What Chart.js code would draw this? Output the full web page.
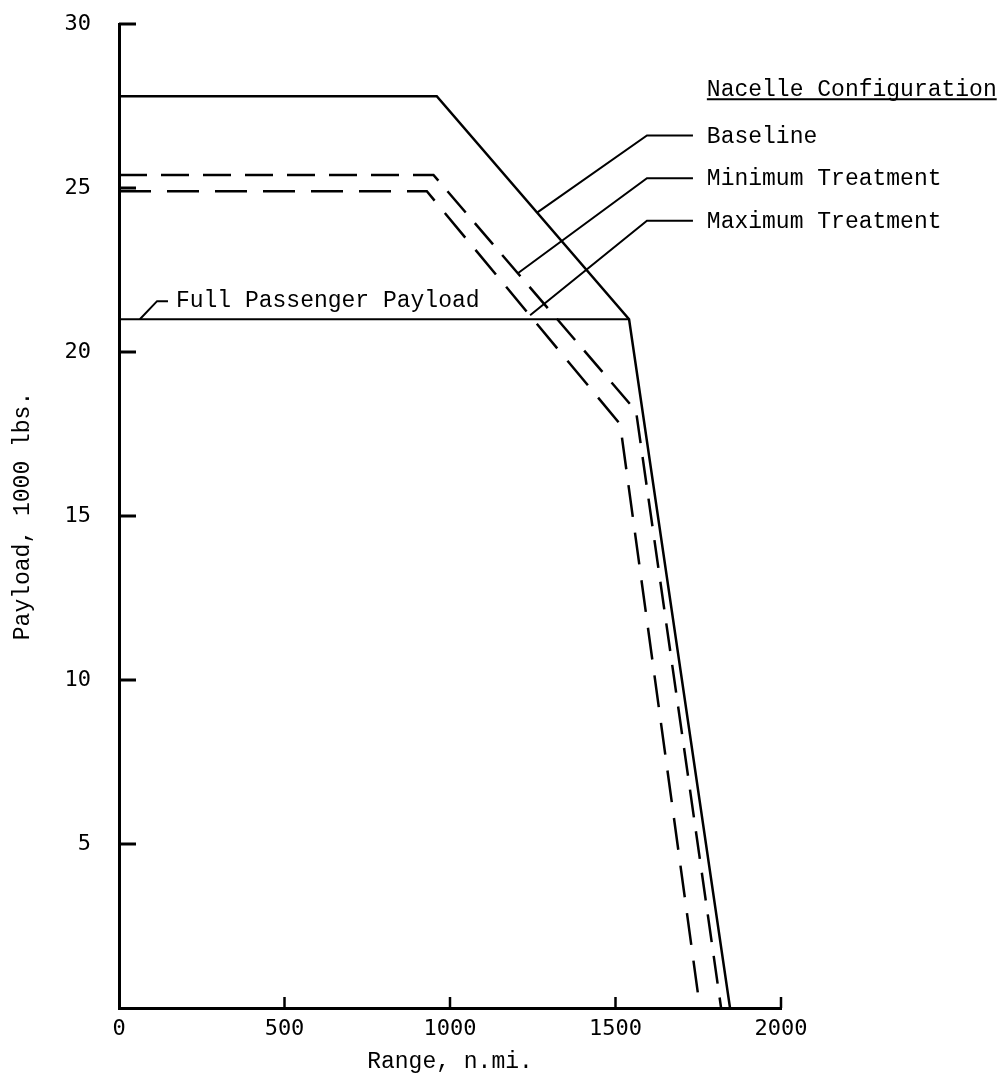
<!DOCTYPE html>
<html>
<head>
<meta charset="utf-8">
<title>Payload vs Range</title>
<script src="https://cdn.jsdelivr.net/npm/chart.js@4.4.1/dist/chart.umd.min.js"></script>
<style>
  html, body { margin: 0; padding: 0; background: #fff; }
  #wrap { width: 1002px; height: 1082px; position: relative; }
</style>
</head>
<body>
<div id="wrap"><canvas id="chart"></canvas></div>
<script>
/* ── Data (range in n.mi., payload in 1000 lbs) ── */
const X_TICKS = [0, 500, 1000, 1500, 2000];
const Y_TICKS = [5, 10, 15, 20, 25, 30];

const BASELINE_X = [0, 960, 1541, 1846];
const BASELINE_Y = [27.8, 27.8, 21.0, 0];

const MIN_TREAT_X = [0, 950, 1562, 1819];
const MIN_TREAT_Y = [25.4, 25.4, 18.2, 0];

const MAX_TREAT_X = [0, 930, 1514, 1755];
const MAX_TREAT_Y = [24.9, 24.9, 17.8, 0];

const FULL_PAX_X = [0, 1541];
const FULL_PAX_Y = [21.0, 21.0];

const SERIES_NAMES = ['Baseline', 'Minimum Treatment', 'Maximum Treatment'];

/* ── Leader lines for the annotations (data units) ── */
const LEADER_TIP_X  = [1263, 1205, 1242];
const LEADER_TIP_Y  = [24.25, 22.4, 21.12];
const LEADER_ELBOW_Y = [26.6, 25.3, 24.0];

const TYPE_FONT = '"Liberation Mono", "DejaVu Sans Mono", monospace';
const TICK_FONT = '"DejaVu Sans Mono", monospace';

function pts(xs, ys) {
  return xs.map((x, i) => ({ x, y: ys[i] }));
}

/* ── Inward ticks, annotations, leader lines ── */
const annotate = {
  id: 'annotate',
  afterDatasetsDraw(chart) {
    const { ctx, scales: { x, y } } = chart;
    const px = v => x.getPixelForValue(v);
    const py = v => y.getPixelForValue(v);
    const left = chart.chartArea.left, bottom = chart.chartArea.bottom;

    ctx.save();
    ctx.strokeStyle = '#000';
    ctx.fillStyle   = '#000';
    ctx.lineCap     = 'butt';

    // y ticks point into the plot
    ctx.lineWidth = 3;
    Y_TICKS.forEach(v => {
      ctx.beginPath();
      ctx.moveTo(left, py(v));
      ctx.lineTo(left + 17, py(v));
      ctx.stroke();
    });
    // x ticks point up
    ctx.lineWidth = 2.5;
    X_TICKS.filter(v => v > 0).forEach(v => {
      ctx.beginPath();
      ctx.moveTo(px(v), bottom);
      ctx.lineTo(px(v), bottom - 11);
      ctx.stroke();
    });

    ctx.font = '23px ' + TYPE_FONT;
    ctx.textAlign = 'left';
    ctx.textBaseline = 'alphabetic';

    // Full passenger payload note
    ctx.lineWidth = 2;
    ctx.beginPath();
    ctx.moveTo(px(63), py(21.0));
    ctx.lineTo(px(115), py(21.55));
    ctx.lineTo(px(148), py(21.55));
    ctx.stroke();
    ctx.fillText('Full Passenger Payload', px(172), py(21.55) + 6);

    // Nacelle configuration heading
    const hx = px(1776), hy = py(27.8);
    const head = 'Nacelle Configuration';
    ctx.fillText(head, hx, hy);
    const w = ctx.measureText(head).width;
    ctx.beginPath();
    ctx.moveTo(hx, hy + 3);
    ctx.lineTo(hx + w, hy + 3);
    ctx.stroke();

    // leaders to each curve
    SERIES_NAMES.forEach((name, i) => {
      const ey = py(LEADER_ELBOW_Y[i]);
      ctx.beginPath();
      ctx.moveTo(px(LEADER_TIP_X[i]), py(LEADER_TIP_Y[i]));
      ctx.lineTo(px(1595), ey);
      ctx.lineTo(px(1734), ey);
      ctx.stroke();
      ctx.fillText(name, hx, ey + 7);
    });

    ctx.restore();
  },
};

new Chart(document.getElementById('chart'), {
  type: 'scatter',
  plugins: [annotate],
  data: {
    datasets: [
      {
        label: 'Full Passenger Payload',
        data: pts(FULL_PAX_X, FULL_PAX_Y),
        borderColor: '#000',
        borderWidth: 2,
      },
      {
        label: SERIES_NAMES[0],
        data: pts(BASELINE_X, BASELINE_Y),
        borderColor: '#000',
        borderWidth: 2.5,
      },
      {
        label: SERIES_NAMES[1],
        data: pts(MIN_TREAT_X, MIN_TREAT_Y),
        borderColor: '#000',
        borderWidth: 2.5,
        borderDash: [28, 14],
      },
      {
        label: SERIES_NAMES[2],
        data: pts(MAX_TREAT_X, MAX_TREAT_Y),
        borderColor: '#000',
        borderWidth: 2.5,
        borderDash: [32, 16],
      },
    ],
  },
  options: {
    responsive: true,
    maintainAspectRatio: false,
    animation: false,
    showLine: true,
    elements: { point: { radius: 0, hoverRadius: 0 }, line: { tension: 0 } },
    layout: { padding: { top: 24, right: 221, left: 0, bottom: 0 } },
    plugins: {
      legend:  { display: false },
      tooltip: { enabled: false },
    },
    scales: {
      x: {
        type: 'linear',
        min: 0,
        max: 2000,
        afterBuildTicks: s => { s.ticks = X_TICKS.map(v => ({ value: v })); },
        afterFit: s => { s.height = 74; s.paddingLeft = 0; s.paddingRight = 0; },
        grid:   { display: false, drawTicks: false },
        border: { display: true, color: '#000', width: 3 },
        ticks: {
          color: '#000',
          padding: 8,
          maxRotation: 0,
          font: { family: TICK_FONT, size: 22 },
          callback: v => String(v),
        },
        title: {
          display: true,
          text: 'Range, n.mi.',
          color: '#000',
          font: { family: TYPE_FONT, size: 23 },
          padding: { top: 0, bottom: 6 },
        },
      },
      y: {
        type: 'linear',
        min: 0,
        max: 30,
        afterBuildTicks: s => { s.ticks = Y_TICKS.map(v => ({ value: v })); },
        afterFit: s => { s.width = 119; s.paddingTop = 0; s.paddingBottom = 0; },
        grid:   { display: false, drawTicks: false },
        border: { display: true, color: '#000', width: 3 },
        ticks: {
          color: '#000',
          padding: 28,
          font: { family: TICK_FONT, size: 22 },
          callback: v => String(v),
        },
        title: {
          display: true,
          text: 'Payload, 1000 lbs.',
          color: '#000',
          font: { family: TYPE_FONT, size: 23 },
          padding: { top: 9, bottom: 0 },
        },
      },
    },
  },
});
</script>
</body>
</html>
